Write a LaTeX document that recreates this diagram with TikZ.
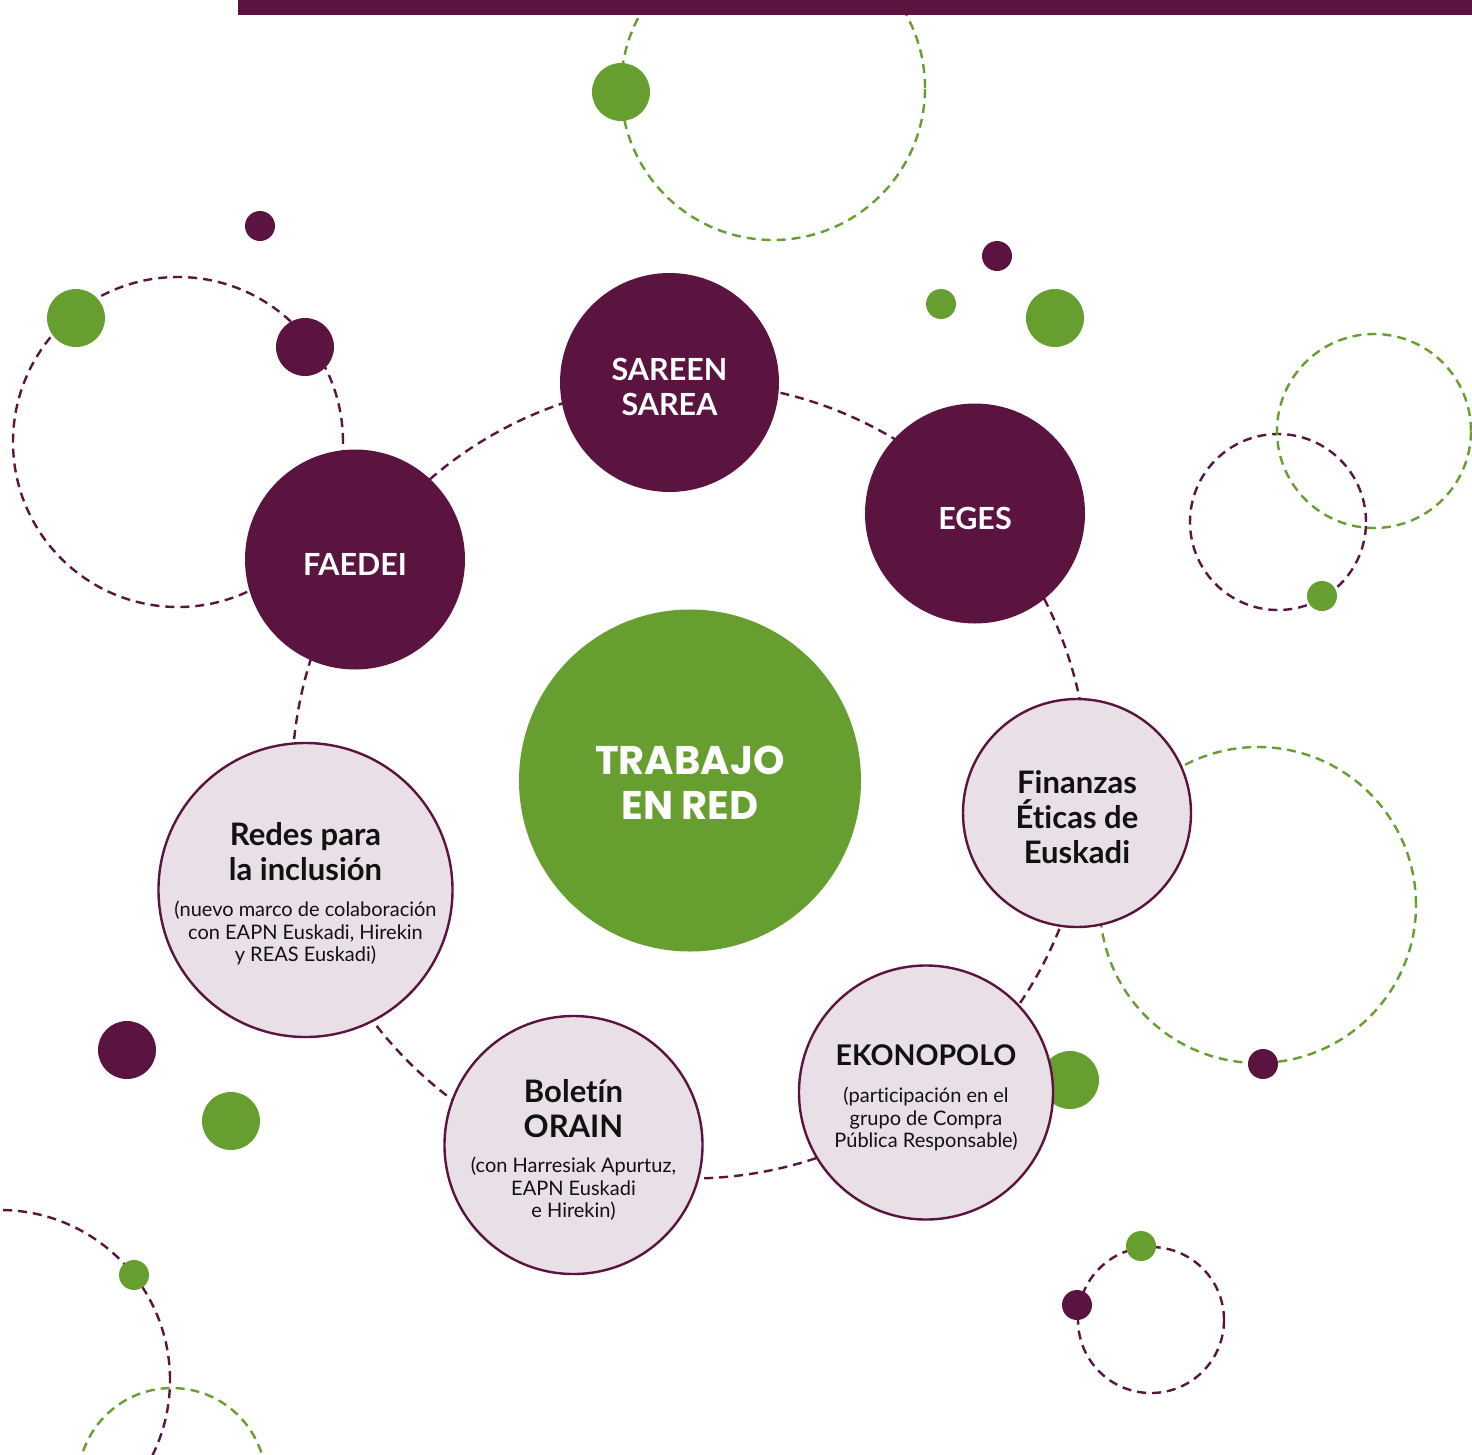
\documentclass[tikz,border=0pt]{standalone}
\usepackage{fontspec}
\setmainfont{Lato}[Ligatures=NoCommon]
\newfontfamily\headfont{Poppins}
\definecolor{plum}{HTML}{5B1440}
\definecolor{leaf}{HTML}{679E30}
\definecolor{pale}{HTML}{E8DFE7}
\definecolor{ink}{HTML}{111111}
\begin{document}
\begin{tikzpicture}[x=1pt,y=-1pt,
  pring/.style={draw=plum, line width=2.4pt, dash pattern=on 9pt off 6pt},
  gring/.style={draw=leaf, line width=2.4pt, dash pattern=on 9pt off 6pt},
  darknode/.style={circle, fill=plum, inner sep=0pt},
  lightnode/.style={circle, fill=pale, draw=plum, line width=2.4pt, inner sep=0pt},
  greennode/.style={circle, fill=leaf, inner sep=0pt},
  wtitle/.style={inner sep=0pt, align=center, text=white, font=\bfseries\fontsize{30.5}{35}\selectfont},
  btitle/.style={inner sep=0pt, align=center, text=ink, font=\bfseries\fontsize{31}{35}\selectfont},
  subtxt/.style={inner sep=0pt, align=center, text=ink, font=\fontsize{20}{22.5}\selectfont}
]
\useasboundingbox (0,0) rectangle (1472,1454);
\clip (0,0) rectangle (1472,1454);
\fill[white] (0,0) rectangle (1472,1454);

% decorative dashed circles
\draw[gring] (773,88) circle[radius=152pt];
\draw[pring] (178,442) circle[radius=165pt];
\draw[pring] (1278,522) circle[radius=88pt];
\draw[gring] (1374,431) circle[radius=97pt];
\draw[gring] (1258,905) circle[radius=158pt];
\draw[pring] (0,1380) circle[radius=170pt];
\draw[gring] (172,1482) circle[radius=94pt];
\draw[pring] (1151,1320) circle[radius=73pt];

% top bar
\fill[plum] (238,0) rectangle (1472,15);

% decorative dots
\fill[leaf] (621,92) circle[radius=29pt];
\fill[plum] (260,226) circle[radius=15pt];
\fill[leaf] (76,318) circle[radius=29pt];
\fill[plum] (305,347) circle[radius=29pt];
\fill[plum] (997,256) circle[radius=15pt];
\fill[leaf] (941,304) circle[radius=15pt];
\fill[leaf] (1055,318) circle[radius=29pt];
\fill[leaf] (1322,596) circle[radius=15pt];
\fill[plum] (1263,1064) circle[radius=15pt];
\fill[leaf] (1070,1080) circle[radius=29pt];
\fill[plum] (127,1050) circle[radius=29pt];
\fill[leaf] (231,1121) circle[radius=29pt];
\fill[leaf] (134,1275) circle[radius=15pt];
\fill[leaf] (1141,1246) circle[radius=15pt];
\fill[plum] (1077,1305) circle[radius=15pt];

% central node and ring
\node[greennode, minimum size=342pt] (trabajo) at (690,780.5) {};
\draw[pring] (trabajo.center) circle[radius=398pt];

% network nodes
\node[darknode, minimum size=219pt] (sareen) at (669.5,382.5) {};
\node[darknode, minimum size=220pt] (faedei) at (355,559.5) {};
\node[darknode, minimum size=220pt] (eges) at (975,513.5) {};
\node[lightnode, minimum size=228pt] (finanzas) at (1077,813) {};
\node[lightnode, minimum size=254pt] (ekono) at (926,1092.5) {};
\node[lightnode, minimum size=258pt] (boletin) at (573.5,1145) {};
\node[lightnode, minimum size=294pt] (redes) at (305.5,890) {};

% texts
\node[inner sep=0pt, align=center, text=white, font=\headfont\bfseries\fontsize{40}{45}\selectfont] (ttrabajo) at ([yshift=-2pt]trabajo.center) {TRABAJO\\EN RED};
\node[wtitle] (tsareen) at ([yshift=-4pt]sareen.center) {SAREEN\\SAREA};
\node[wtitle] (tfaedei) at ([yshift=-4.5pt]faedei.center) {FAEDEI};
\node[wtitle] (teges) at ([yshift=-4.5pt]eges.center) {EGES};
\node[btitle] (tfinanzas) at ([yshift=-4pt]finanzas.center) {Finanzas\\Éticas de\\Euskadi};
\node[btitle, font=\bfseries\fontsize{28.5}{35}\selectfont] (tekono) at ([yshift=37.5pt]ekono.center) {EKONOPOLO};
\node[subtxt] (sekono) at ([yshift=-26.5pt]ekono.center) {(participación en el\\grupo de Compra\\Pública Responsable)};
\node[btitle] (tboletin) at ([yshift=36.5pt]boletin.center) {Boletín\\ORAIN};
\node[subtxt] (sboletin) at ([yshift=-44pt]boletin.center) {(con Harresiak Apurtuz,\\EAPN Euskadi\\e Hirekin)};
\node[btitle] (tredes) at ([yshift=38pt]redes.center) {Redes para\\la inclusión};
\node[subtxt] (sredes) at ([yshift=-43pt]redes.center) {(nuevo marco de colaboración\\con EAPN Euskadi, Hirekin\\y REAS Euskadi)};
\end{tikzpicture}
\end{document}
